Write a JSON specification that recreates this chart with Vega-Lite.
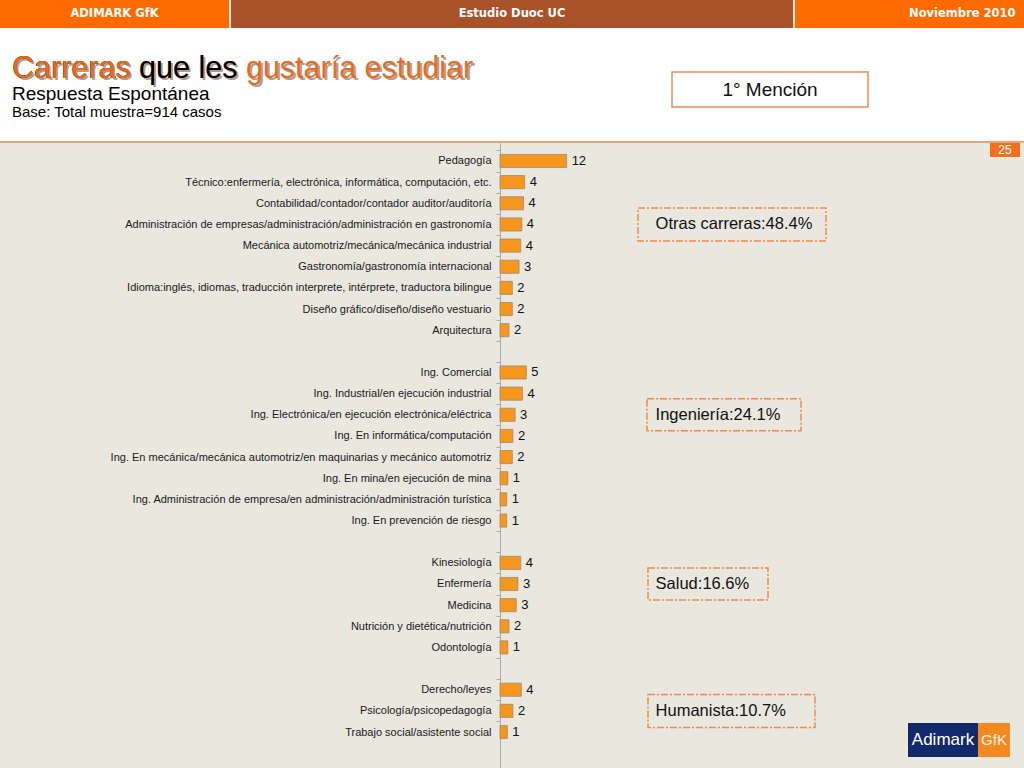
{
  "$schema": "https://vega.github.io/schema/vega-lite/v6.json",
  "background": "#e9e7de",
  "padding": 0,
  "spacing": 0,
  "config": {"view": {"stroke": null}, "font": "Liberation Sans"},
  "datasets": {
    "bars": [
      {"cat": "Pedagogía", "value": 11.9},
      {"cat": "Técnico:enfermería, electrónica, informática, computación, etc.", "value": 4.4},
      {"cat": "Contabilidad/contador/contador auditor/auditoría", "value": 4.2},
      {"cat": "Administración de empresas/administración/administración en gastronomía", "value": 3.9},
      {"cat": "Mecánica automotriz/mecánica/mecánica industrial", "value": 3.7},
      {"cat": "Gastronomía/gastronomía internacional", "value": 3.4},
      {"cat": "Idioma:inglés, idiomas, traducción interprete, intérprete, traductora bilingue", "value": 2.2},
      {"cat": "Diseño gráfico/diseño/diseño vestuario", "value": 2.2},
      {"cat": "Arquitectura", "value": 1.6},
      {"cat": "Ing. Comercial", "value": 4.7},
      {"cat": "Ing. Industrial/en ejecución industrial", "value": 4.0},
      {"cat": "Ing. Electrónica/en ejecución electrónica/eléctrica", "value": 2.7},
      {"cat": "Ing. En informática/computación", "value": 2.3},
      {"cat": "Ing. En mecánica/mecánica automotriz/en maquinarias y mecánico automotriz", "value": 2.2},
      {"cat": "Ing. En mina/en ejecución de mina", "value": 1.4},
      {"cat": "Ing. Administración de empresa/en administración/administración turística", "value": 1.2},
      {"cat": "Ing. En prevención de riesgo", "value": 1.2},
      {"cat": "Kinesiología", "value": 3.7},
      {"cat": "Enfermería", "value": 3.2},
      {"cat": "Medicina", "value": 2.9},
      {"cat": "Nutrición y dietética/nutrición", "value": 1.6},
      {"cat": "Odontología", "value": 1.4},
      {"cat": "Derecho/leyes", "value": 3.8},
      {"cat": "Psicología/psicopedagogía", "value": 2.3},
      {"cat": "Trabajo social/asistente social", "value": 1.3}
    ],
    "groups": [
      {"cat": "Administración de empresas/administración/administración en gastronomía", "label": "Otras carreras:48.4%"},
      {"cat": "Ing. Electrónica/en ejecución electrónica/eléctrica", "label": "Ingeniería:24.1%"},
      {"cat": "Enfermería", "label": "Salud:16.6%"},
      {"cat": "Psicología/psicopedagogía", "label": "Humanista:10.7%"}
    ]
  },
  "vconcat": [
    {
      "spacing": 2,
      "hconcat": [
        {"width": 229, "height": 28, "view": {"fill": "#ff6a00"}, "data": {"values": [{"t": "ADIMARK GfK"}]}, "mark": {"type": "text", "font": "DejaVu Sans", "fontWeight": "bold", "fontSize": 11.5, "color": "white"}, "encoding": {"text": {"field": "t"}}},
        {"width": 562, "height": 28, "view": {"fill": "#a9522a"}, "data": {"values": [{"t": "Estudio Duoc UC"}]}, "mark": {"type": "text", "font": "DejaVu Sans", "fontWeight": "bold", "fontSize": 11.5, "color": "white"}, "encoding": {"text": {"field": "t"}}},
        {"width": 229, "height": 28, "view": {"fill": "#ff6a00"}, "data": {"values": [{"t": "Noviembre 2010"}]}, "mark": {"type": "text", "font": "DejaVu Sans", "fontWeight": "bold", "fontSize": 11.5, "color": "white", "align": "right", "dx": 106}, "encoding": {"text": {"field": "t"}}}
      ]
    },
    {
      "width": 1024, "height": 113, "view": {"fill": "white"},
      "layer": [
        {"data": {"values": [{"t": "Carreras que les gustaría estudiar"}]}, "mark": {"type": "text", "align": "left", "baseline": "alphabetic", "fontSize": 30.5, "color": "#6b5040", "opacity": 0.55, "dx": -498, "dy": -5}, "encoding": {"text": {"field": "t"}}},
        {"data": {"values": [{"t": "Carreras que les gustaría estudiar"}]}, "mark": {"type": "text", "align": "left", "baseline": "alphabetic", "fontSize": 30.5, "color": "#e96c1c", "dx": -500, "dy": -7}, "encoding": {"text": {"field": "t"}}},
        {"data": {"values": [{"t": "Carreras que les"}]}, "mark": {"type": "text", "align": "left", "baseline": "alphabetic", "fontSize": 30.5, "color": "#000000", "dx": -500, "dy": -7}, "encoding": {"text": {"field": "t"}}},
        {"data": {"values": [{"t": "Carreras"}]}, "mark": {"type": "text", "align": "left", "baseline": "alphabetic", "fontSize": 30.5, "color": "#e96c1c", "dx": -500, "dy": -7}, "encoding": {"text": {"field": "t"}}},
        {"data": {"values": [{"t": "Respuesta Espontánea"}]}, "mark": {"type": "text", "align": "left", "baseline": "alphabetic", "fontSize": 19, "color": "#000000", "dx": -500, "dy": 15.5}, "encoding": {"text": {"field": "t"}}},
        {"data": {"values": [{"t": "Base: Total muestra=914 casos"}]}, "mark": {"type": "text", "align": "left", "baseline": "alphabetic", "fontSize": 15, "color": "#000000", "dx": -500, "dy": 32.5}, "encoding": {"text": {"field": "t"}}},
        {"data": {"values": [{"t": "1° Mención"}]}, "mark": {"type": "point", "shape": "M1.6,-0.125H3.56V0.225H1.6Z", "size": 40000, "filled": true, "fill": "white", "stroke": "#ef8a4f", "strokeWidth": 1.5, "opacity": 1}, "encoding": {}},
        {"data": {"values": [{"t": "1° Mención"}]}, "mark": {"type": "text", "fontSize": 19, "color": "#111111", "dx": 258, "dy": 5}, "encoding": {"text": {"field": "t"}}}
      ]
    },
    {"width": 1024, "height": 2, "view": {"fill": "#eba273"}, "data": {"values": []}, "mark": "text", "encoding": {}},
    {
      "spacing": 0,
      "hconcat": [
        {
          "width": 908, "height": 625,
          "encoding": {
            "y": {
              "field": "cat", "type": "nominal", "sort": null,
              "scale": {
                "domain": [
                  "Pedagogía",
                  "Técnico:enfermería, electrónica, informática, computación, etc.",
                  "Contabilidad/contador/contador auditor/auditoría",
                  "Administración de empresas/administración/administración en gastronomía",
                  "Mecánica automotriz/mecánica/mecánica industrial",
                  "Gastronomía/gastronomía internacional",
                  "Idioma:inglés, idiomas, traducción interprete, intérprete, traductora bilingue",
                  "Diseño gráfico/diseño/diseño vestuario",
                  "Arquitectura",
                  " ",
                  "Ing. Comercial",
                  "Ing. Industrial/en ejecución industrial",
                  "Ing. Electrónica/en ejecución electrónica/eléctrica",
                  "Ing. En informática/computación",
                  "Ing. En mecánica/mecánica automotriz/en maquinarias y mecánico automotriz",
                  "Ing. En mina/en ejecución de mina",
                  "Ing. Administración de empresa/en administración/administración turística",
                  "Ing. En prevención de riesgo",
                  "  ",
                  "Kinesiología",
                  "Enfermería",
                  "Medicina",
                  "Nutrición y dietética/nutrición",
                  "Odontología",
                  "   ",
                  "Derecho/leyes",
                  "Psicología/psicopedagogía",
                  "Trabajo social/asistente social"
                ],
                "paddingInner": 0.38, "paddingOuter": 0.966, "align": 0.28
              },
              "axis": {
                "title": null, "offset": -500, "domainColor": "#a9a9a9", "tickColor": "#a9a9a9", "tickSize": 4,
                "labelPadding": 5, "labelFontSize": 11, "labelColor": "#1a1a1a", "labelFont": "Liberation Sans",
                "labelLimit": 480, "tickOffset": -10.575, "labelOffset": 10.575
              }
            }
          },
          "layer": [
            {
              "data": {"name": "bars"},
              "mark": {"type": "bar", "fill": "#f7961d", "stroke": "#9b8a78", "strokeWidth": 0.8},
              "encoding": {"x": {"field": "value", "type": "quantitative", "scale": {"domain": [-89.2857, 72.857], "nice": false, "zero": true}, "axis": null}}
            },
            {
              "data": {"name": "bars"},
              "mark": {"type": "text", "align": "left", "dx": 5, "fontSize": 13, "color": "#111111"},
              "encoding": {"x": {"field": "value", "type": "quantitative"}, "text": {"field": "value", "type": "quantitative", "format": ".0f"}}
            },
            {
              "data": {"name": "groups"},
              "mark": {"type": "point", "filled": false, "color": "#ee8a4a", "strokeWidth": 1.5, "strokeDash": [7, 2, 2, 2], "size": 40000, "opacity": 1},
              "encoding": {
                "x": {"datum": 26.0, "type": "quantitative"},
                "shape": {
                  "field": "label", "type": "nominal", "legend": null,
                  "scale": {
                    "domain": ["Otras carreras:48.4%", "Ingeniería:24.1%", "Salud:16.6%", "Humanista:10.7%"],
                    "range": ["M-0.076,-0.165H1.804V0.165H-0.076Z", "M0.014,-0.16H1.554V0.16H0.014Z", "M0.024,-0.16H1.224V0.16H0.024Z", "M0.024,-0.165H1.694V0.165H0.024Z"]
                  }
                }
              }
            },
            {
              "data": {"name": "groups"},
              "mark": {"type": "text", "align": "left", "dx": 10, "fontSize": 16.5, "color": "#111111"},
              "encoding": {"x": {"datum": 26.0, "type": "quantitative"}, "text": {"field": "label"}}
            }
          ]
        },
        {
          "spacing": 0,
          "vconcat": [
            {
              "spacing": 0,
              "hconcat": [
                {"width": 82, "height": 14, "data": {"values": []}, "mark": "text", "encoding": {}},
                {"width": 30, "height": 14, "view": {"fill": "#f26f1c"}, "data": {"values": [{"t": "25"}]}, "mark": {"type": "text", "fontSize": 12, "color": "white"}, "encoding": {"text": {"field": "t"}}},
                {"width": 4, "height": 14, "data": {"values": []}, "mark": "text", "encoding": {}}
              ]
            },
            {"width": 116, "height": 566, "data": {"values": []}, "mark": "text", "encoding": {}},
            {
              "spacing": 0,
              "hconcat": [
                {"width": 70, "height": 34, "view": {"fill": "#12296b"}, "data": {"values": [{"t": "Adimark"}]}, "mark": {"type": "text", "fontSize": 17, "color": "white"}, "encoding": {"text": {"field": "t"}}},
                {"width": 32, "height": 34, "view": {"fill": "#f5891f"}, "data": {"values": [{"t": "GfK"}]}, "mark": {"type": "text", "fontSize": 15, "color": "#fff3e6"}, "encoding": {"text": {"field": "t"}}},
                {"width": 14, "height": 34, "data": {"values": []}, "mark": "text", "encoding": {}}
              ]
            },
            {"width": 116, "height": 11, "data": {"values": []}, "mark": "text", "encoding": {}}
          ]
        }
      ]
    }
  ]
}
